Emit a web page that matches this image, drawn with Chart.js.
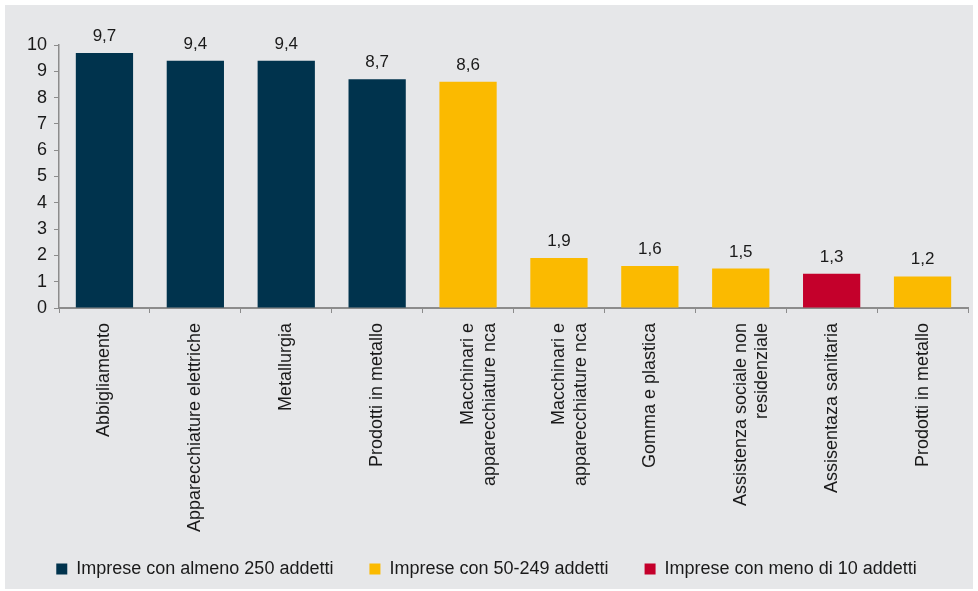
<!DOCTYPE html>
<html>
<head>
<meta charset="utf-8">
<script src="https://cdn.jsdelivr.net/npm/chart.js@4.4.1/dist/chart.umd.min.js"></script>
<style>
    body { margin: 0; background: #ffffff; }
    #box { position: absolute; left: 5px; top: 5px; width: 968px; height: 584px; background: #e6e7e9; }
</style>
</head>
<body>
<div id="box"><canvas id="chart"></canvas></div>
<script>
// dati del grafico
const categories = [
    'Abbigliamento',
    'Apparecchiature elettriche',
    'Metallurgia',
    'Prodotti in metallo',
    ['Macchinari e', 'apparecchiature nca'],
    ['Macchinari e', 'apparecchiature nca'],
    'Gomma e plastica',
    ['Assistenza sociale non', 'residenziale'],
    'Assisentaza sanitaria',
    'Prodotti in metallo'
];
const values = [9.7, 9.4, 9.4, 8.7, 8.6, 1.9, 1.6, 1.5, 1.3, 1.2];
const groupOf = [0, 0, 0, 0, 1, 1, 1, 1, 2, 1];
const seriesNames = ['Imprese con almeno 250 addetti', 'Imprese con 50-249 addetti', 'Imprese con meno di 10 addetti'];
const seriesColors = ['#00334d', '#fbba00', '#c4002b'];
const yTicks = [0, 1, 2, 3, 4, 5, 6, 7, 8, 9, 10];

const fontFamily = '"Liberation Sans", Arial, sans-serif';

// etichette sopra le barre
const valueLabels = {
    id: 'valueLabels',
    afterDatasetsDraw(chart) {
        const ctx = chart.ctx;
        ctx.save();
        ctx.font = '17px ' + fontFamily;
        ctx.fillStyle = '#1a1a1a';
        ctx.textAlign = 'center';
        ctx.textBaseline = 'alphabetic';
        chart.data.datasets.forEach((ds, d) => {
            const meta = chart.getDatasetMeta(d);
            meta.data.forEach((bar, i) => {
                const v = ds.data[i];
                if (v === null) return;
                ctx.fillText(v.toFixed(1).replace('.', ','), bar.x, bar.y - 12);
            });
        });
        ctx.restore();
    }
};

// le etichette ruotate possono scendere sotto l'asse, fino alla legenda
const unclipLabels = {
    id: 'unclipLabels',
    afterLayout(chart) {
        chart.scales.x.bottom = chart.height;
    }
};

const datasets = seriesNames.map((name, g) => ({
    label: name,
    data: values.map((v, i) => groupOf[i] === g ? v : null),
    backgroundColor: seriesColors[g],
    borderWidth: 0,
    barPercentage: 0.63,
    categoryPercentage: 1
}));

new Chart(document.getElementById('chart'), {
    type: 'bar',
    data: { labels: categories, datasets: datasets },
    plugins: [valueLabels, unclipLabels],
    options: {
        responsive: true,
        maintainAspectRatio: false,
        animation: false,
        layout: { padding: { top: 40, right: 5, bottom: 1, left: 0 } },
        plugins: {
            tooltip: { enabled: false },
            legend: {
                position: 'bottom',
                labels: {
                    boxWidth: 11,
                    boxHeight: 11,
                    padding: 36,
                    color: '#1a1a1a',
                    font: { size: 18, family: fontFamily }
                }
            }
        },
        scales: {
            x: {
                stacked: true,
                afterFit(scale) { scale.height = 216; },
                grid: { offset: true, drawOnChartArea: false, tickLength: 5, color: '#8c8c8c' },
                border: { color: '#8c8c8c', width: 2 },
                ticks: {
                    minRotation: 90,
                    maxRotation: 90,
                    autoSkip: false,
                    padding: 10,
                    color: '#1a1a1a',
                    font: { size: 18, family: fontFamily }
                }
            },
            y: {
                stacked: true,
                min: 0,
                max: 10,
                afterFit(scale) { scale.width = 54; },
                afterBuildTicks(scale) { scale.ticks = yTicks.map(v => ({ value: v })); },
                grid: { drawOnChartArea: false, tickLength: 5, color: '#8c8c8c' },
                border: { color: '#8c8c8c', width: 1.5 },
                ticks: {
                    padding: 7,
                    color: '#1a1a1a',
                    font: { size: 18, family: fontFamily }
                }
            }
        }
    }
});
</script>
</body>
</html>
